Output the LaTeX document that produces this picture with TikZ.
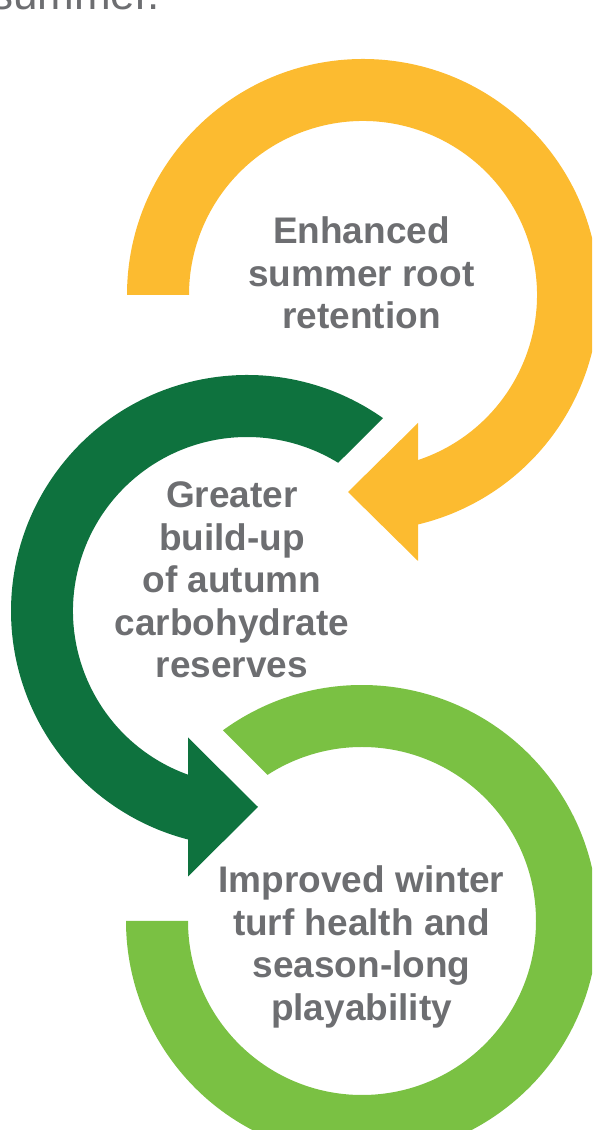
\documentclass[tikz,border=0pt]{standalone}
\usepackage{fontspec}
\setmainfont{Liberation Sans}
\usetikzlibrary{calc}
\definecolor{ringyellow}{HTML}{FCBB30}
\definecolor{ringdark}{HTML}{0E723E}
\definecolor{ringlight}{HTML}{7AC143}
\definecolor{labelgray}{HTML}{6D6E71}
\begin{document}
\begin{tikzpicture}[x=1pt,y=1pt,
  labeltext/.style={text=labelgray, font=\fontsize{37}{42.5}\selectfont\bfseries, align=center, inner sep=0pt}]
\useasboundingbox (0,0) rectangle (592,1130);
\clip (0,0) rectangle (592,1130);

% yellow ring with arrow
\coordinate (cy) at (363,835);
\fill[ringyellow] ($(cy)+(180:236)$) arc[start angle=180,end angle=-76.52,radius=236]
  -- ($(cy)+(-71.57:174)$) arc[start angle=-71.57,end angle=180,radius=174] -- cycle;
\fill[ringyellow] (418,707) -- (348,638) -- (418,569) -- cycle;

% dark green ring with arrow
\coordinate (cg) at (247,519);
\fill[ringdark] ($(cg)+(54.8:236)$) arc[start angle=54.8,end angle=255.5,radius=236]
  -- ($(cg)+(250.2:174)$) arc[start angle=250.2,end angle=58.4,radius=174] -- cycle;
\fill[ringdark] (188,392.5) -- (258,323) -- (188,253.5) -- cycle;

% light green ring
\coordinate (cl) at (362,209);
\fill[ringlight] ($(cl)+(126.1:236)$) arc[start angle=126.1,end angle=-180,radius=236]
  -- ($(cl)+(180:174)$) arc[start angle=-180,end angle=122.9,radius=174] -- cycle;

% texts
\node[labeltext] (t1) at (361.5,856.8) {Enhanced\\summer root\\retention};
\node[labeltext] (t2) at (232,550) {Greater\\build-up\\of autumn\\carbohydrate\\reserves};
\node[labeltext] (t3) at (361.5,183) {Improved winter\\turf health and\\season-long\\playability};
\node[text=labelgray, font=\fontsize{44}{50}\selectfont, anchor=base east, inner sep=0pt] (top) at (160,1120) {summer.};
\end{tikzpicture}
\end{document}
